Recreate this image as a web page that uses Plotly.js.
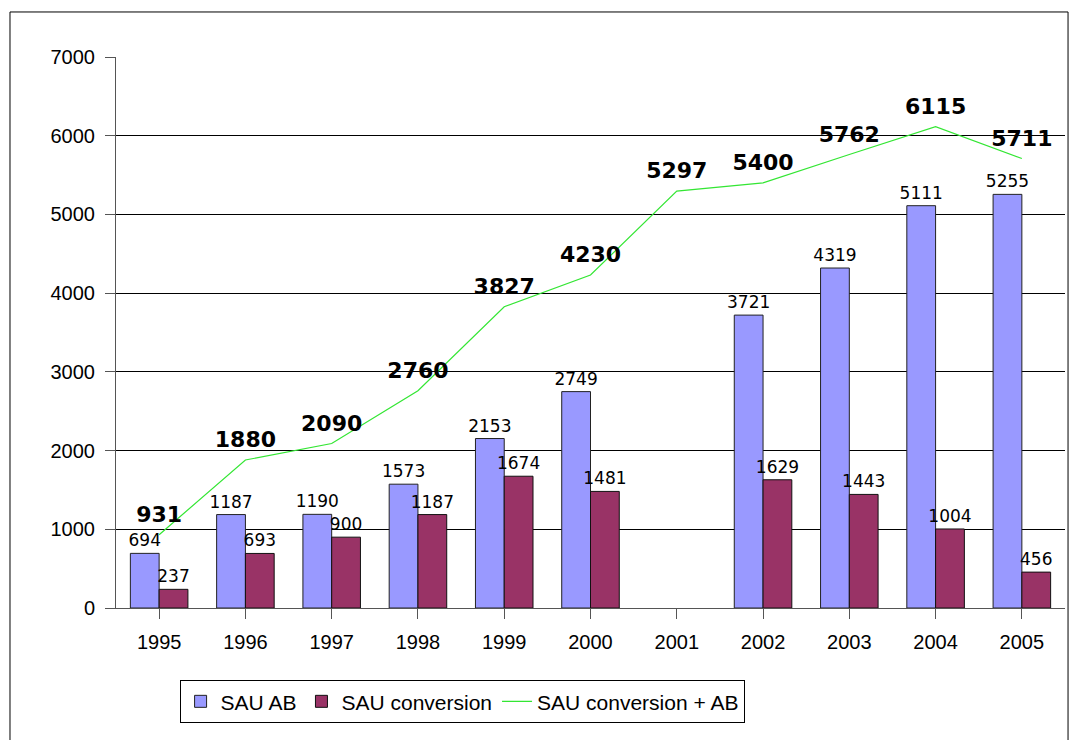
<!DOCTYPE html>
<html>
<head>
<meta charset="utf-8">
<script src="https://cdn.plot.ly/plotly-3.0.1.min.js"></script>
<style>
  html, body { margin: 0; padding: 0; background: #fff; }
  #plot { width: 1075px; height: 740px; }
</style>
</head>
<body>
<div id="plot"></div>
<script>
const years = ['1995', '1996', '1997', '1998', '1999', '2000', '2001', '2002', '2003', '2004', '2005'];
const sauAB = [694, 1187, 1190, 1573, 2153, 2749, null, 3721, 4319, 5111, 5255];
const sauConversion = [237, 693, 900, 1187, 1674, 1481, null, 1629, 1443, 1004, 456];
const sauTotal = [931, 1880, 2090, 2760, 3827, 4230, 5297, 5400, 5762, 6115, 5711];

const labelFont = 'DejaVu Sans, Verdana, sans-serif';
const axisFont = 'Liberation Sans, Arial, sans-serif';

function labels(arr) {
    return arr.map(v => v === null ? '' : String(v));
}

let barAB = {
    name: 'SAU AB',
    x: years,
    y: sauAB,
    type: 'bar',
    marker: { color: '#9999ff', line: { color: '#222', width: 1 } },
    text: labels(sauAB),
    textposition: 'outside',
    textfont: { family: labelFont, size: 17, color: '#000' },
    constraintext: 'none',
    cliponaxis: false,
    hoverinfo: 'none'
};

let barConv = {
    name: 'SAU conversion',
    x: years,
    y: sauConversion,
    type: 'bar',
    marker: { color: '#993366', line: { color: '#111', width: 1 } },
    text: labels(sauConversion),
    textposition: 'outside',
    textfont: { family: labelFont, size: 17, color: '#000' },
    constraintext: 'none',
    cliponaxis: false,
    hoverinfo: 'none'
};

let lineTotal = {
    name: 'SAU conversion + AB',
    x: years,
    y: sauTotal,
    type: 'scatter',
    mode: 'lines+markers+text',
    line: { color: '#33e633', width: 1.2 },
    marker: { size: 10, color: 'rgba(0,0,0,0)' },
    text: labels(sauTotal),
    textposition: 'top center',
    textfont: { family: labelFont, size: 22, color: '#000', weight: 'bold' },
    cliponaxis: false,
    hoverinfo: 'none'
};

let layout = {
    width: 1075,
    height: 740,
    autosize: false,
    paper_bgcolor: '#fff',
    plot_bgcolor: '#fff',
    margin: { l: 116, r: 10, t: 57, b: 132 },
    barmode: 'group',
    bargap: 0.333,
    bargroupgap: 0,
    showlegend: true,
    legend: {
        orientation: 'h',
        x: 0.067,
        xanchor: 'left',
        y: -0.131,
        yanchor: 'top',
        bordercolor: '#000',
        borderwidth: 1,
        bgcolor: '#fff',
        font: { family: axisFont, size: 21, color: '#000' },
        traceorder: 'normal',
        itemwidth: 30
    },
    xaxis: {
        type: 'category',
        range: [-0.5, 10.5],
        showgrid: false,
        showline: true,
        linecolor: '#555',
        linewidth: 1,
        ticks: 'outside',
        ticklen: 10,
        tickcolor: '#555',
        ticklabelstandoff: 6,
        tickfont: { family: axisFont, size: 20, color: '#000' },
        fixedrange: true
    },
    yaxis: {
        range: [0, 7000],
        dtick: 1000,
        showgrid: true,
        gridcolor: '#000',
        gridwidth: 1,
        zeroline: true,
        zerolinecolor: '#333',
        showline: true,
        linecolor: '#555',
        linewidth: 1,
        ticks: 'outside',
        ticklen: 10,
        tickcolor: '#555',
        ticklabelstandoff: 6,
        tickfont: { family: axisFont, size: 20, color: '#000' },
        fixedrange: true
    },
    shapes: [{
        type: 'rect',
        xref: 'paper',
        yref: 'paper',
        x0: -0.1117,
        x1: 1.0032,
        y0: -0.26,
        y1: 1.0817,
        line: { color: '#000', width: 1 },
        fillcolor: 'rgba(0,0,0,0)',
        layer: 'below'
    }]
};

Plotly.newPlot(document.getElementById('plot'), [barAB, barConv, lineTotal], layout, { displayModeBar: false, staticPlot: true });
</script>
</body>
</html>
